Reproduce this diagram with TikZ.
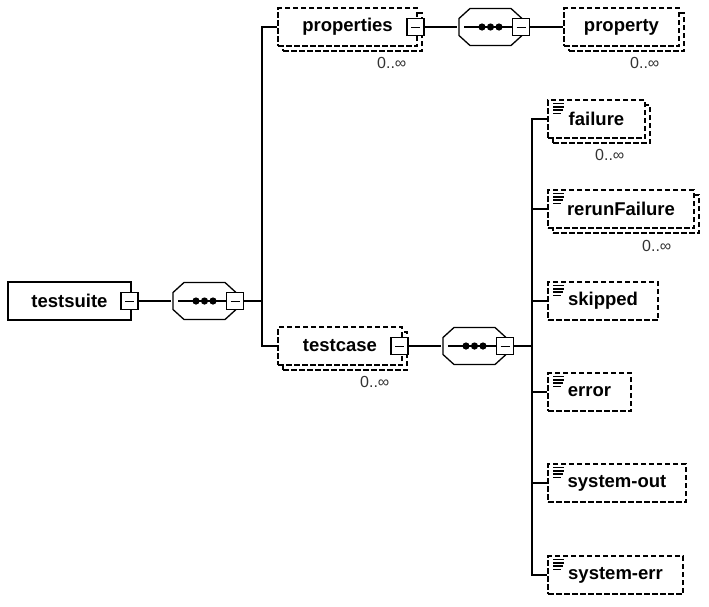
\documentclass[tikz,border=0pt]{standalone}
\usepackage{fontspec}
\setmainfont{Liberation Sans}
\usetikzlibrary{positioning}
\usetikzlibrary{shadows}
\newcommand{\ppbox}{path picture bounding box}
\tikzset{
	elem/.style={
		draw, fill=white,
		inner sep=0pt,
		minimum height=38pt,
		font=\fontsize{18.5}{20}\selectfont\bfseries,
		text centered},
	opt/.style={elem, dash pattern=on 5.5pt off 2.5pt},
	multi/.style={copy shadow={shadow xshift=5pt, shadow yshift=-5pt}},
	texticon/.style={
		path picture={
			\foreach \l/\y in {11/3.5, 11/6.8, 10/10.1, 8/13.4}
				\draw[solid, line width=1.6pt] ([shift={(5pt,-\y pt)}]\ppbox.north west) -- ++(\l pt,0);
		}},
	minus/.style={
		draw, fill=white, solid,
		line width=1.2pt,
		minimum size=17pt, inner sep=0pt,
		path picture={\draw[line width=1pt] ([xshift=4pt]\ppbox.west) -- ([xshift=-4pt]\ppbox.east);}},
	seq/.style={
		minimum width=65pt, minimum height=39pt, inner sep=0pt,
		path picture={
			\draw ([shift={(12pt,-1pt)}]\ppbox.north west) -- ([shift={(-12pt,-1pt)}]\ppbox.north east)
				-- ([shift={(-1pt,-11pt)}]\ppbox.north east) -- ([shift={(-1pt,11pt)}]\ppbox.south east)
				-- ([shift={(-12pt,1pt)}]\ppbox.south east) -- ([shift={(12pt,1pt)}]\ppbox.south west)
				-- ([shift={(1pt,11pt)}]\ppbox.south west) -- ([shift={(1pt,-11pt)}]\ppbox.north west) -- cycle;
			\draw ([xshift=6pt]\ppbox.west) -- (\ppbox.east);
			\foreach \d in {-8.5,0,8.5}
				\fill ([xshift=\d pt]\ppbox.center) circle (3.6pt);
		}},
	occ/.style={inner sep=0pt, anchor=east, text=black!80, font=\fontsize{16}{18}\selectfont},
}

\begin{document}
\begin{tikzpicture}
	[x=1pt, y=-1pt, line width=1.3pt]
	\useasboundingbox (0,0) rectangle (709,606);

	\node[elem, minimum width=123pt] (suite) at (69.5,301) {testsuite};
	\node[minus] (suite-m) at (129.5,301) {};
	\node[seq] (seqA) at (204.5,301) {};
	\node[minus] (seqA-m) at (235,301) {};

	\node[opt, multi, minimum width=139pt] (props) at (347.5,27) {properties};
	\node[minus] (props-m) at (415.5,27) {};
	\node[occ] (props-occ) at (407,63) {0..∞};
	\node[seq] (seqB) at (490.5,27) {};
	\node[minus] (seqB-m) at (521,27) {};
	\node[opt, multi, minimum width=115pt] (prop) at (621.5,27) {property};
	\node[occ] (prop-occ) at (660,63) {0..∞};

	\node[opt, multi, minimum width=124pt] (tcase) at (340,346) {testcase};
	\node[minus] (tcase-m) at (399.5,346) {};
	\node[occ] (tcase-occ) at (390,382) {0..∞};
	\node[seq] (seqC) at (474.5,346) {};
	\node[minus] (seqC-m) at (505,346) {};

	\node[opt, multi, texticon, minimum width=97pt] (failure) at (596.5,119) {failure};
	\node[occ] (failure-occ) at (625,155) {0..∞};
	\node[opt, multi, texticon, minimum width=146pt] (rerun) at (621,209) {rerunFailure};
	\node[occ] (rerun-occ) at (672,246) {0..∞};
	\node[opt, texticon, minimum width=110pt] (skipped) at (603,301) {skipped};
	\node[opt, texticon, minimum width=83pt] (error) at (589.5,392) {error};
	\node[opt, texticon, minimum width=138pt] (sysout) at (617,483) {system-out};
	\node[opt, texticon, minimum width=135pt] (syserr) at (615.5,575) {system-err};

	\coordinate (jA) at (262,301);
	\coordinate (jB) at (532,346);

	\draw (suite-m.east) -- (seqA.west);
	\draw (seqA-m.east) -- (jA);
	\draw (props.west) -| (jA) |- (tcase.west);
	\draw (props-m.east) -- (seqB.west);
	\draw (seqB-m.east) -- (prop.west);
	\draw (tcase-m.east) -- (seqC.west);
	\draw (seqC-m.east) -- (jB);
	\draw (failure.west) -| (jB) |- (syserr.west);
	\foreach \n in {rerun,skipped,error,sysout}
		\draw (\n.west) -- (\n.west -| jB);
\end{tikzpicture}
\end{document}
